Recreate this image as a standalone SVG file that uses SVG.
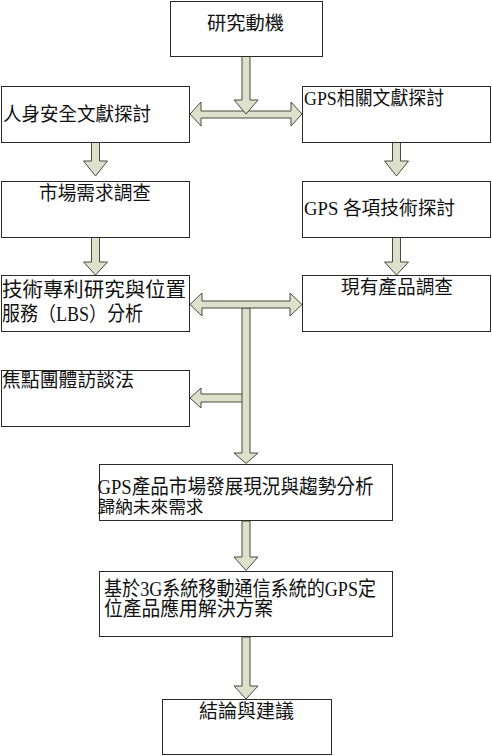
<svg xmlns="http://www.w3.org/2000/svg" width="492" height="756" viewBox="0 0 492 756">
<style>
.box{fill:#ffffff;stroke:#2a2a2a;stroke-width:1}
.arr{fill:#dde0cb;stroke:#4a4a3c;stroke-width:1;stroke-linejoin:miter}
text{font-family:"Liberation Serif","Noto Sans CJK TC",serif;fill:#111;font-size:19px}
.big{font-size:20px}
.sm{font-size:17px}
</style>
<rect width="492" height="756" fill="#ffffff"/>
<g id="connectors">
<polygon id="a2" class="arr" points="190,114 201,102 201,111 291,111 291,102 302,114 291,126 291,118 201,118 201,126"/>
<polygon id="a1" class="arr" points="242,56.5 250,56.5 250,100 258,100 246,114 234,100 242,100"/>
<polygon id="a3l" class="arr" points="91.5,142 99.5,142 99.5,161 107.5,161 95.5,176 83.5,161 91.5,161"/>
<polygon id="a3r" class="arr" points="392.5,142 400.5,142 400.5,161 408.5,161 396.5,176 384.5,161 392.5,161"/>
<polygon id="a4l" class="arr" points="91.5,237 99.5,237 99.5,262 107.5,262 95.5,275 83.5,262 91.5,262"/>
<polygon id="a4r" class="arr" points="392.5,237 400.5,237 400.5,262 408.5,262 396.5,275 384.5,262 392.5,262"/>
<polygon id="a7" class="arr" points="243,394 201,394 201,388 190,398 201,408 201,402 243,402"/>
<polygon id="a6" class="arr" points="242,308 250,308 250,453 258,453 246,463.5 234,453 242,453"/>
<polygon id="a5" class="arr" points="190,304.5 202,293 202,301 290,301 290,293 302,304.5 290,316 290,308 202,308 202,316"/>
<polygon id="a8" class="arr" points="242,521 250,521 250,557 258,557 246,570.5 234,557 242,557"/>
<polygon id="a9" class="arr" points="242,637 250,637 250,686 258,686 246,699 234,686 242,686"/>
</g>
<g id="n1"><rect class="box" x="170.5" y="1.5" width="152" height="55"/><text x="207" y="30" textLength="77" lengthAdjust="spacingAndGlyphs">研究動機</text></g>
<g id="n2"><rect class="box" x="1.5" y="86.5" width="188" height="56"/><text x="3" y="121" textLength="148" lengthAdjust="spacingAndGlyphs">人身安全文獻探討</text></g>
<g id="n3"><rect class="box" x="302.5" y="86.5" width="188" height="56"/><text x="304" y="105" textLength="140" lengthAdjust="spacingAndGlyphs">GPS相關文獻探討</text></g>
<g id="n4"><rect class="box" x="1.5" y="181.5" width="188" height="56"/><text x="39" y="200" textLength="112" lengthAdjust="spacingAndGlyphs">市場需求調查</text></g>
<g id="n5"><rect class="box" x="302.5" y="181.5" width="188" height="56"/><text x="304" y="215" textLength="151" lengthAdjust="spacingAndGlyphs">GPS 各項技術探討</text></g>
<g id="n6"><rect class="box" x="1.5" y="275.5" width="188" height="56"/><text class="big" x="2" y="297" textLength="184" lengthAdjust="spacingAndGlyphs">技術專利研究與位置</text><text class="big" x="2" y="321" textLength="141" lengthAdjust="spacingAndGlyphs">服務（LBS）分析</text></g>
<g id="n7"><rect class="box" x="302.5" y="275.5" width="188" height="56"/><text x="341" y="294" textLength="112" lengthAdjust="spacingAndGlyphs">現有產品調查</text></g>
<g id="n8"><rect class="box" x="1.5" y="370.5" width="188" height="56"/><text x="2" y="387" textLength="132" lengthAdjust="spacingAndGlyphs">焦點團體訪談法</text></g>
<g id="n9"><rect class="box" x="99.5" y="464.5" width="293" height="56"/><text class="big" x="97.5" y="494" textLength="276" lengthAdjust="spacingAndGlyphs">GPS產品市場發展現況與趨勢分析</text><text class="sm" x="97.5" y="513" textLength="106" lengthAdjust="spacingAndGlyphs">歸納未來需求</text></g>
<g id="n10"><rect class="box" x="99.5" y="571.5" width="293" height="65"/><text class="big" x="104" y="596" textLength="272" lengthAdjust="spacingAndGlyphs">基於3G系統移動通信系統的GPS定</text><text class="big" x="104" y="616" textLength="169" lengthAdjust="spacingAndGlyphs">位產品應用解決方案</text></g>
<g id="n11"><rect class="box" x="162.5" y="699.5" width="169" height="55"/><text x="199" y="718" textLength="95" lengthAdjust="spacingAndGlyphs">結論與建議</text></g>
</svg>
